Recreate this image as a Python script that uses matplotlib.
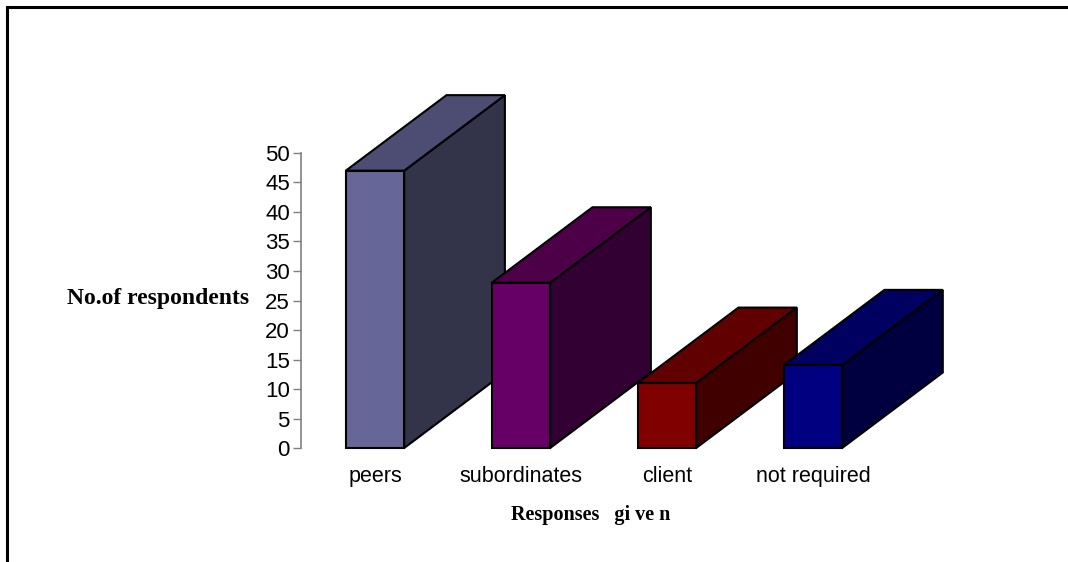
import matplotlib.pyplot as plt
from matplotlib.patches import Polygon
from matplotlib.lines import Line2D

categories = ['peers', 'subordinates', 'client', 'not required']
respondents = [47, 28, 11, 14]
front_colors = ['#666699', '#660066', '#800000', '#000080']
top_colors = ['#4d4d73', '#4d0047', '#600000', '#000060']
side_colors = ['#33334a', '#330033', '#400000', '#000040']

bar_w = 0.4
depth_x = 0.69   # depth of the boxes in category units
depth_y = 12.8   # depth of the boxes in value units

fig = plt.figure(figsize=(10.68, 5.62), dpi=100)
ax = fig.add_axes([0.2818, 0.2028, 0.575, 0.525])
ax.set_xlim(-0.507, 3.7)
ax.set_ylim(0, 50)

for i, (v, fc, tc, sc) in enumerate(zip(respondents, front_colors, top_colors, side_colors)):
    x0, x1 = i - bar_w / 2, i + bar_w / 2
    side = [(x1, 0), (x1 + depth_x, depth_y), (x1 + depth_x, v + depth_y), (x1, v)]
    top = [(x0, v), (x1, v), (x1 + depth_x, v + depth_y), (x0 + depth_x, v + depth_y)]
    front = [(x0, 0), (x1, 0), (x1, v), (x0, v)]
    for pts, c in [(side, sc), (top, tc), (front, fc)]:
        ax.add_patch(Polygon(pts, closed=True, facecolor=c, edgecolor='black',
                             linewidth=1.5, joinstyle='miter', clip_on=False,
                             zorder=3 + i))

for s in ['top', 'right', 'bottom']:
    ax.spines[s].set_visible(False)
ax.spines['left'].set_color('#808080')
ax.spines['left'].set_linewidth(1.2)
ax.set_yticks(range(0, 51, 5))
ax.tick_params(axis='y', direction='out', length=6, width=1, color='#808080',
               labelsize=16, pad=2)
ax.set_xticks(range(len(categories)))
ax.set_xticklabels(categories)
ax.tick_params(axis='x', length=0, labelsize=15.5, pad=13)
for lbl in ax.get_xticklabels() + ax.get_yticklabels():
    lbl.set_fontfamily('Liberation Sans')

fig.text(0.0627, 0.468, 'No.of respondents', fontsize=17, fontweight='bold',
         family='Liberation Serif', va='center', ha='left')
fig.text(0.553, 0.083, 'Responses   gi ve n', fontsize=14.5, fontweight='bold',
         family='Liberation Serif', va='center', ha='center')

# frame along the top and left edge
fig.add_artist(Line2D([0.0066, 1.0], [0.9875, 0.9875], color='black', lw=2.2,
                      transform=fig.transFigure))
fig.add_artist(Line2D([0.0066, 0.0066], [0.0, 0.9875], color='black', lw=2.2,
                      transform=fig.transFigure))

fig.savefig('out.png', dpi=100)
